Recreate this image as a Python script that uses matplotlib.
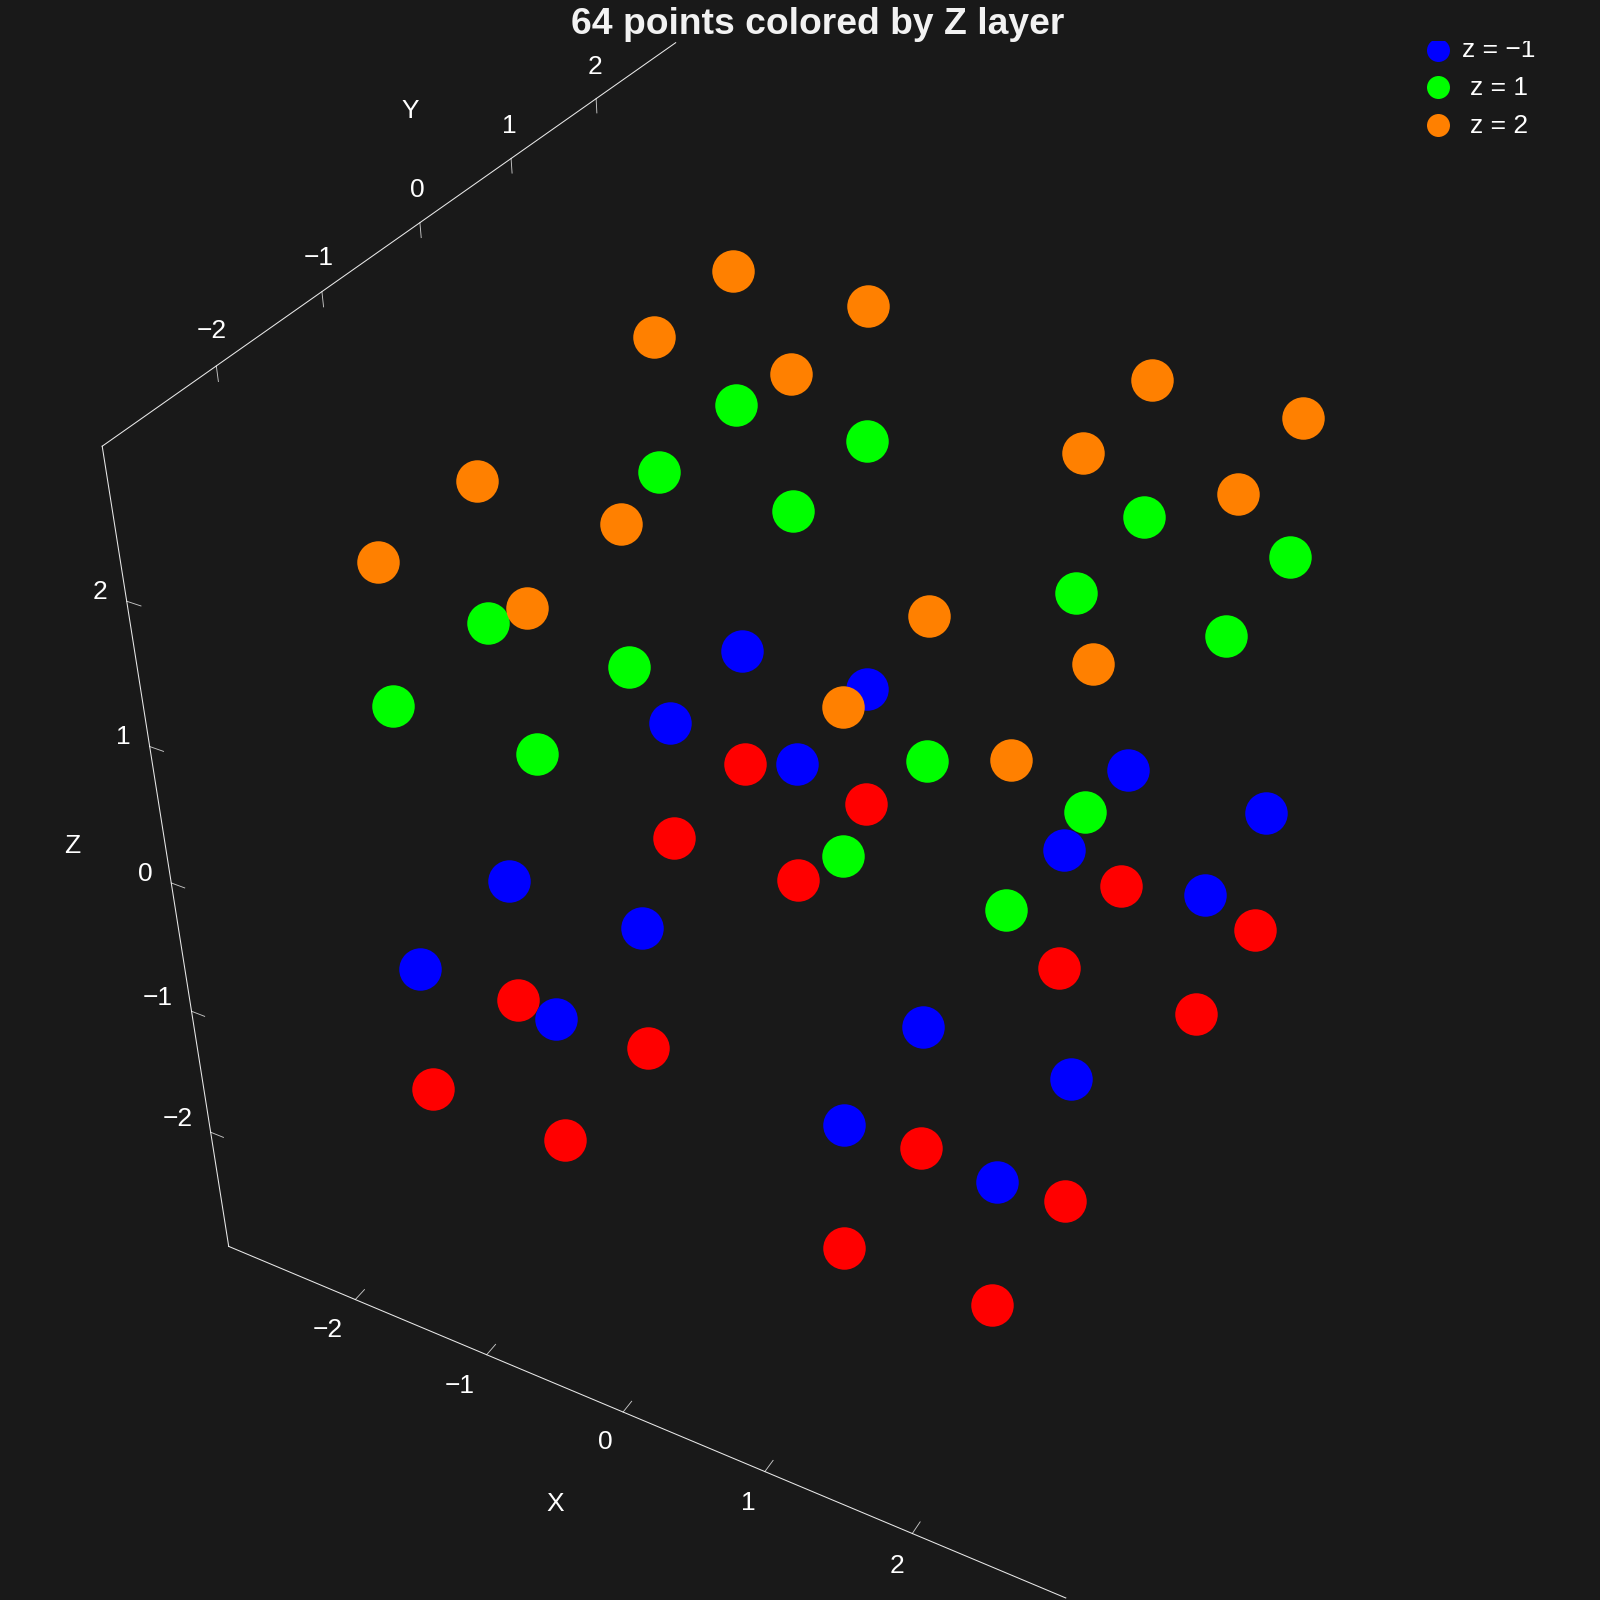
import numpy as np
import matplotlib
matplotlib.use('Agg')
import matplotlib.pyplot as plt
from matplotlib.text import Text
from matplotlib.transforms import Bbox, TransformedBbox

plt.rcParams['font.family'] = ['Liberation Sans', 'DejaVu Sans']
plt.rcParams['axes.unicode_minus'] = True

BG = '#191919'
FG = '#ffffff'

# Data
x_values = [-2, -1, 1, 2]
y_values = [-2, -1, 1, 2]
z_layers = [-2, 1, -1, 2]          # drawing order, back to front
layer_colors = {-2: '#ff0000', -1: '#0000ff', 1: '#00ff00', 2: '#ff8000'}
legend_layers = [-1, 1, 2]
legend_labels = ['z = \u22121', 'z = 1', 'z = 2']
tick_values = [-2, -1, 0, 1, 2]
tick_labels = ['\u22122', '\u22121', '0', '1', '2']
axis_low, axis_high = -3, 3
title = '64 points colored by Z layer'

fig = plt.figure(figsize=(16, 16), dpi=100, facecolor=BG)
ax = fig.add_axes([0.02163, 0.00987, 1, 1], projection='3d', facecolor=BG)
ax.set_xlim(axis_low, axis_high, view_margin=0)
ax.set_ylim(axis_low, axis_high, view_margin=0)
ax.set_zlim(axis_low, axis_high, view_margin=0)
ax.view_init(elev=36.204, azim=-61.566, roll=0)
ax.set_proj_type('persp', focal_length=0.3769)
ax.set_box_aspect((1, 1, 1), zoom=1.0111)
ax.set_xticks([])
ax.set_yticks([])
ax.set_zticks([])
ax.set_axis_off()
ax.computed_zorder = False
ax.patch.set_visible(False)

# Everything is clipped just under the title band
clip = TransformedBbox(Bbox([[-1, 0], [2, 1559 / 1600]]), fig.transFigure)

line_kw = dict(color=FG, lw=0.75, zorder=1, alpha=0.9)
tick_kw = dict(color=FG, lw=0.65, zorder=1, alpha=0.75)
text_kw = dict(color=FG, fontsize=19, ha='center', va='center')
tick_len = 0.1

# Axis lines
lines = []
lines += ax.plot([axis_low, axis_high], [axis_low] * 2, [axis_low] * 2, **line_kw)
lines += ax.plot([axis_low] * 2, [axis_low, axis_high], [axis_high] * 2, **line_kw)
lines += ax.plot([axis_low] * 2, [axis_low] * 2, [axis_low, axis_high], **line_kw)

# Ticks and labels
for v, lab in zip(tick_values, tick_labels):
    lines += ax.plot([v, v], [axis_low, axis_low + tick_len], [axis_low] * 2, **tick_kw)
    lines += ax.plot([axis_low] * 2, [v, v], [axis_high, axis_high - tick_len], **tick_kw)
    lines += ax.plot([axis_low, axis_low + tick_len], [axis_low] * 2, [v, v], **tick_kw)
    if v < 0:
        ax.text(v, axis_low - 0.30, axis_low, lab, **text_kw)
    else:
        ax.text(v + 0.035, axis_low - 0.26, axis_low, lab, **text_kw)
    ax.text(axis_low, v, axis_high + 0.22, lab, **text_kw)
    ax.text(axis_low - (0.26 if v < 0 else 0.19), axis_low, v, lab, **text_kw)
for ln in lines:
    ln.set_clip_on(True)
    ln.set_clip_box(clip)

ax.text(0.03, axis_low - 0.81, axis_low, 'X', **text_kw)
ax.text(axis_low, 0, axis_high + 0.73, 'Y', **text_kw)
ax.text(axis_low - 0.75, axis_low, 0, 'Z', **text_kw)

# Points, one scatter per Z layer
for i, z in enumerate(z_layers):
    xs, ys = np.meshgrid(x_values, y_values)
    ax.scatter(xs.ravel(), ys.ravel(), np.full(xs.size, z), s=936,
               c=layer_colors[z], linewidths=0, depthshade=False, zorder=5 + i)

# Title
fig.text(818 / 1600, 1 - 34.4 / 1600, title, color='#f2f2f2', fontsize=26.8,
         fontweight='bold', ha='center', va='baseline')

# Legend, clipped at the same top edge as the plot
leg = fig.add_axes([0, 0, 1, 1559 / 1600])
leg.set_xlim(0, 1600)
leg.set_ylim(1600, 41)
leg.set_xticks([])
leg.set_yticks([])
leg.set_axis_off()
leg.patch.set_visible(False)
legend_y = [50.2, 87.3, 125]
legend_base = [57.3, 95, 133.3]
for z, lab, yy, yb in zip(legend_layers, legend_labels, legend_y, legend_base):
    leg.scatter([1438], [yy], s=274, c=layer_colors[z], linewidths=0)
    leg.text(1499, yb, lab, color=FG, fontsize=19, ha='center', va='baseline',
             clip_on=True)

# Unused empty axis texts are not part of the picture
for a in (ax, leg):
    for t in a.findobj(Text):
        if not t.get_text():
            t.set_visible(False)

fig.savefig('out.png', facecolor=BG)
